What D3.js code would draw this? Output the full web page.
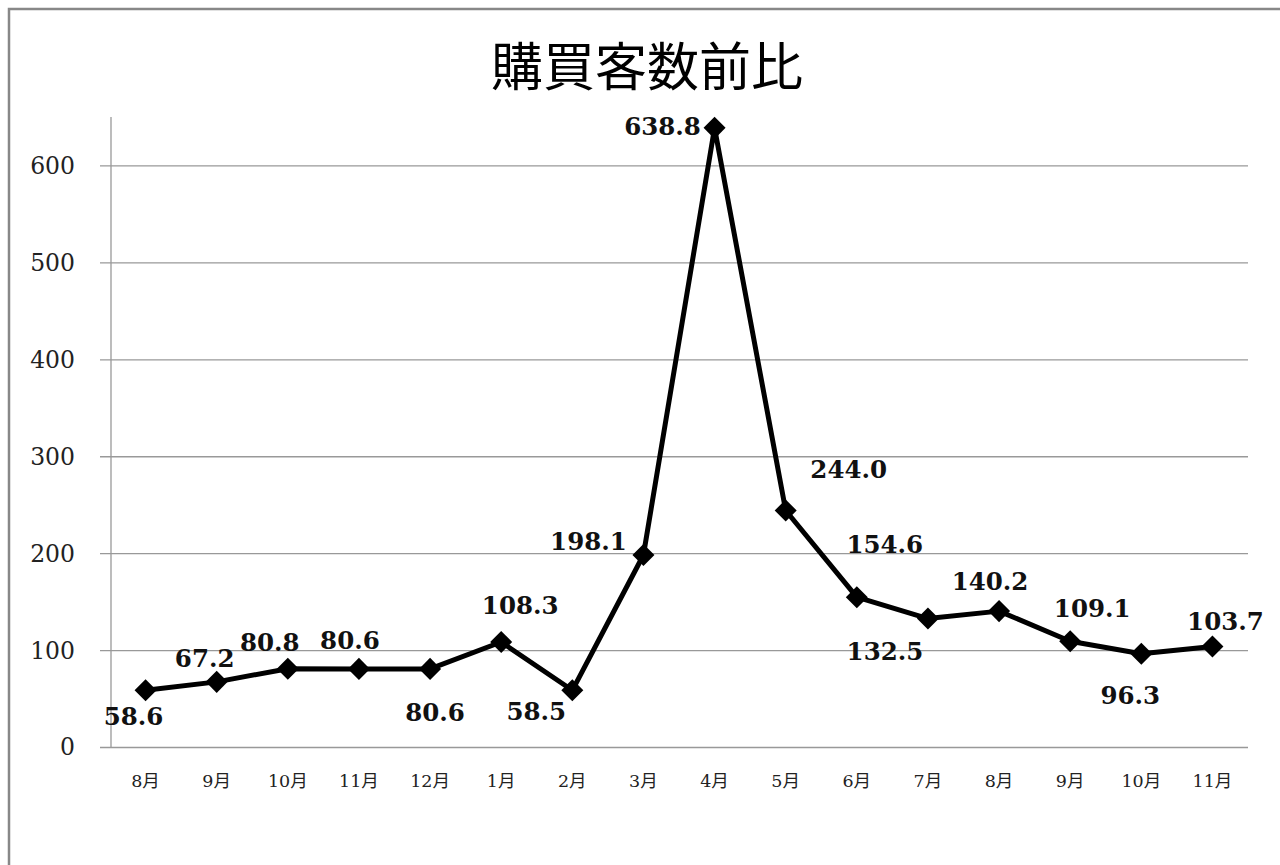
<!DOCTYPE html>
<html><head><meta charset="utf-8">
<script src="https://cdn.jsdelivr.net/npm/d3@7"></script>
<style>html,body{margin:0;padding:0;background:#fff;overflow:hidden}</style>
</head><body>
<svg id="c" width="1280" height="865"></svg>
<script>
const title = "購買客数前比";
const categories = ["8月","9月","10月","11月","12月","1月","2月","3月","4月","5月","6月","7月","8月","9月","10月","11月"];
const values = [58.6,67.2,80.8,80.6,80.6,108.3,58.5,198.1,638.8,244.0,154.6,132.5,140.2,109.1,96.3,103.7];
const yTicks = [0,100,200,300,400,500,600];
// label placement offsets (dx, dy of label center/baseline from point)
const labelOffsets = [[-12,35],[-12,-15],[-18,-18],[-9,-20],[5,52],[19,-28],[-36,30],[-55,-5],[-52,7],[63,-33],[28,-44],[-43,41],[-9,-21],[22,-24],[-11,50],[13,-16]];

(function(){
const svg = d3.select("#c");
const W = 1280, H = 865;
const pL = 110, pR = 1248, pT = 117, pB = 747;

svg.append("rect").attr("x",9).attr("y",9).attr("width",W+20).attr("height",H+20)
  .attr("fill","#fff").attr("stroke","#888").attr("stroke-width",2.5);

const x = d3.scaleBand().domain(d3.range(categories.length)).range([pL,pR]).padding(0);
const y = d3.scaleLinear().domain([0,650]).range([pB,pT]);

const gy = svg.append("g").attr("transform",`translate(${pR},0)`);
gy.call(d3.axisLeft(y).tickValues(yTicks).tickSize(pR-pL+10).tickFormat(""));
gy.select(".domain").remove();
gy.selectAll("line").attr("stroke","#999").attr("stroke-width",1.3);

svg.append("line").attr("x1",pL+1).attr("x2",pL+1).attr("y1",pT).attr("y2",pB)
  .attr("stroke","#999").attr("stroke-width",1.3);

svg.append("g").selectAll("text").data(yTicks).join("text")
  .attr("x",75).attr("y",d=>y(d)).attr("dy","0.36em").attr("text-anchor","end")
  .attr("font-family","DejaVu Serif, serif").attr("font-size",23.5).attr("fill","#222")
  .text(d=>d);

svg.append("g").selectAll("text").data(categories).join("text")
  .attr("x",(d,i)=>x(i)+x.bandwidth()/2).attr("y",787).attr("text-anchor","middle")
  .attr("font-family","DejaVu Serif, 'Noto Sans CJK JP', serif").attr("font-size",17.5).attr("fill","#222")
  .text(d=>d);

svg.append("text").attr("x",647).attr("y",86).attr("text-anchor","middle")
  .attr("font-family","'Noto Sans CJK JP', sans-serif").attr("font-size",52).attr("fill","#000")
  .text(title);

const line = d3.line().x((d,i)=>x(i)+x.bandwidth()/2).y(d=>y(d));
svg.append("path").datum(values).attr("d",line).attr("fill","none")
  .attr("stroke","#000").attr("stroke-width",5).attr("stroke-linejoin","round");

svg.append("g").selectAll("path").data(values).join("path")
  .attr("d",d3.symbol(d3.symbolSquare,243))
  .attr("transform",(d,i)=>`translate(${x(i)+x.bandwidth()/2},${y(d)}) rotate(45)`)
  .attr("fill","#000");

svg.append("g").selectAll("text").data(values).join("text")
  .attr("x",(d,i)=>x(i)+x.bandwidth()/2+labelOffsets[i][0])
  .attr("y",(d,i)=>y(d)+labelOffsets[i][1])
  .attr("text-anchor","middle")
  .attr("font-family","DejaVu Serif, serif").attr("font-weight","bold").attr("font-size",24.5).attr("fill","#111")
  .text(d=>d.toFixed(1));
})();
</script>
</body></html>
